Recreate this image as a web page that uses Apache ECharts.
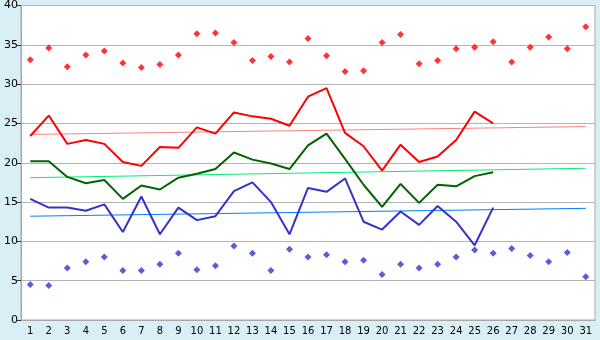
<!DOCTYPE html>
<html>
<head>
<meta charset="utf-8">
<script src="https://cdn.jsdelivr.net/npm/echarts@6/dist/echarts.min.js"></script>
<style>
  html, body { margin: 0; padding: 0; background: #d9eef5; }
  #chart { width: 600px; height: 340px; }
</style>
</head>
<body>
<div id="chart"></div>
<script>
const days = ['1', '2', '3', '4', '5', '6', '7', '8', '9', '10', '11', '12', '13', '14', '15', '16',
  '17', '18', '19', '20', '21', '22', '23', '24', '25', '26', '27', '28', '29', '30', '31']

// daily extremes (scatter)
const maxPoints = [33.1, 34.6, 32.2, 33.7, 34.2, 32.7, 32.1, 32.5, 33.7, 36.4, 36.5, 35.3, 33.0, 33.5, 32.8, 35.8,
  33.6, 31.6, 31.7, 35.3, 36.3, 32.6, 33.0, 34.5, 34.7, 35.4, 32.8, 34.7, 36.0, 34.5, 37.3]
const minPoints = [4.5, 4.4, 6.6, 7.4, 8.0, 6.3, 6.3, 7.1, 8.5, 6.4, 6.9, 9.4, 8.5, 6.3, 9.0, 8.0,
  8.3, 7.4, 7.6, 5.8, 7.1, 6.6, 7.1, 8.0, 8.9, 8.5, 9.1, 8.2, 7.4, 8.6, 5.5]

// daily lines (only up to day 26)
const maxLine = [23.4, 26.0, 22.4, 22.9, 22.4, 20.1, 19.6, 22.0, 21.9, 24.5, 23.7, 26.4, 25.9, 25.6, 24.7, 28.4,
  29.5, 23.8, 22.1, 19.0, 22.3, 20.1, 20.8, 22.9, 26.5, 25.0]
const avgLine = [20.2, 20.2, 18.2, 17.4, 17.8, 15.4, 17.1, 16.6, 18.1, 18.6, 19.2, 21.3, 20.4, 19.9, 19.2, 22.2,
  23.7, 20.5, 17.2, 14.4, 17.3, 14.9, 17.2, 17.0, 18.3, 18.8]
const minLine = [15.4, 14.3, 14.3, 13.9, 14.7, 11.2, 15.7, 10.9, 14.3, 12.7, 13.2, 16.4, 17.5, 15.0, 10.9, 16.8,
  16.3, 18.0, 12.5, 11.5, 13.8, 12.1, 14.5, 12.5, 9.5, 14.3]

// trend lines: start (day 1) and end (day 31)
const maxTrend = [23.6, 24.6]
const avgTrend = [18.1, 19.3]
const minTrend = [13.2, 14.2]

const yTicks = [0, 5, 10, 15, 20, 25, 30, 35, 40]

function trendData(t) {
  return days.map((d, i) => i === 0 ? t[0] : (i === days.length - 1 ? t[1] : null))
}

const chart = echarts.init(document.getElementById('chart'))

const lineSeries = (data, color) => ({
  type: 'line',
  data,
  symbol: 'none',
  lineStyle: { color, width: 2 },
  z: 4
})
const trendSeries = (t, color) => ({
  type: 'line',
  data: trendData(t),
  connectNulls: true,
  symbol: 'none',
  lineStyle: { color, width: 1 },
  z: 3
})
const pointSeries = (data, color) => ({
  type: 'scatter',
  data,
  symbol: 'diamond',
  symbolSize: 7,
  itemStyle: { color },
  z: 5
})

chart.setOption({
  backgroundColor: '#d9eef5',
  animation: false,
  grid: {
    left: 21, right: 5, top: 5, bottom: 20,
    show: true,
    backgroundColor: '#ffffff',
    borderColor: '#a8a8a8',
    borderWidth: 1
  },
  xAxis: {
    type: 'category',
    data: days,
    boundaryGap: true,
    axisLine: { lineStyle: { color: '#a8a8a8' } },
    axisTick: { alignWithLabel: true, length: 4, lineStyle: { color: '#333' } },
    axisLabel: { color: '#000', fontFamily: 'DejaVu Sans', fontSize: 10, margin: 6, interval: 0 },
    splitLine: { show: false }
  },
  yAxis: {
    type: 'value',
    min: yTicks[0],
    max: yTicks[yTicks.length - 1],
    interval: 5,
    axisLine: { show: true, lineStyle: { color: '#a8a8a8' } },
    axisTick: { show: true, length: 4, lineStyle: { color: '#333' } },
    axisLabel: { color: '#000', fontFamily: 'DejaVu Sans', fontSize: 11, margin: 3 },
    splitLine: { lineStyle: { color: '#b4b4b4', width: 1 } }
  },
  series: [
    trendSeries(maxTrend, '#ff8080'),
    trendSeries(avgTrend, '#00ee77'),
    trendSeries(minTrend, '#0080ff'),
    lineSeries(maxLine, '#ff0000'),
    lineSeries(avgLine, '#006400'),
    lineSeries(minLine, '#3333cc'),
    pointSeries(maxPoints, '#ff0000'),
    pointSeries(minPoints, '#3333cc')
  ]
})
</script>
</body>
</html>
